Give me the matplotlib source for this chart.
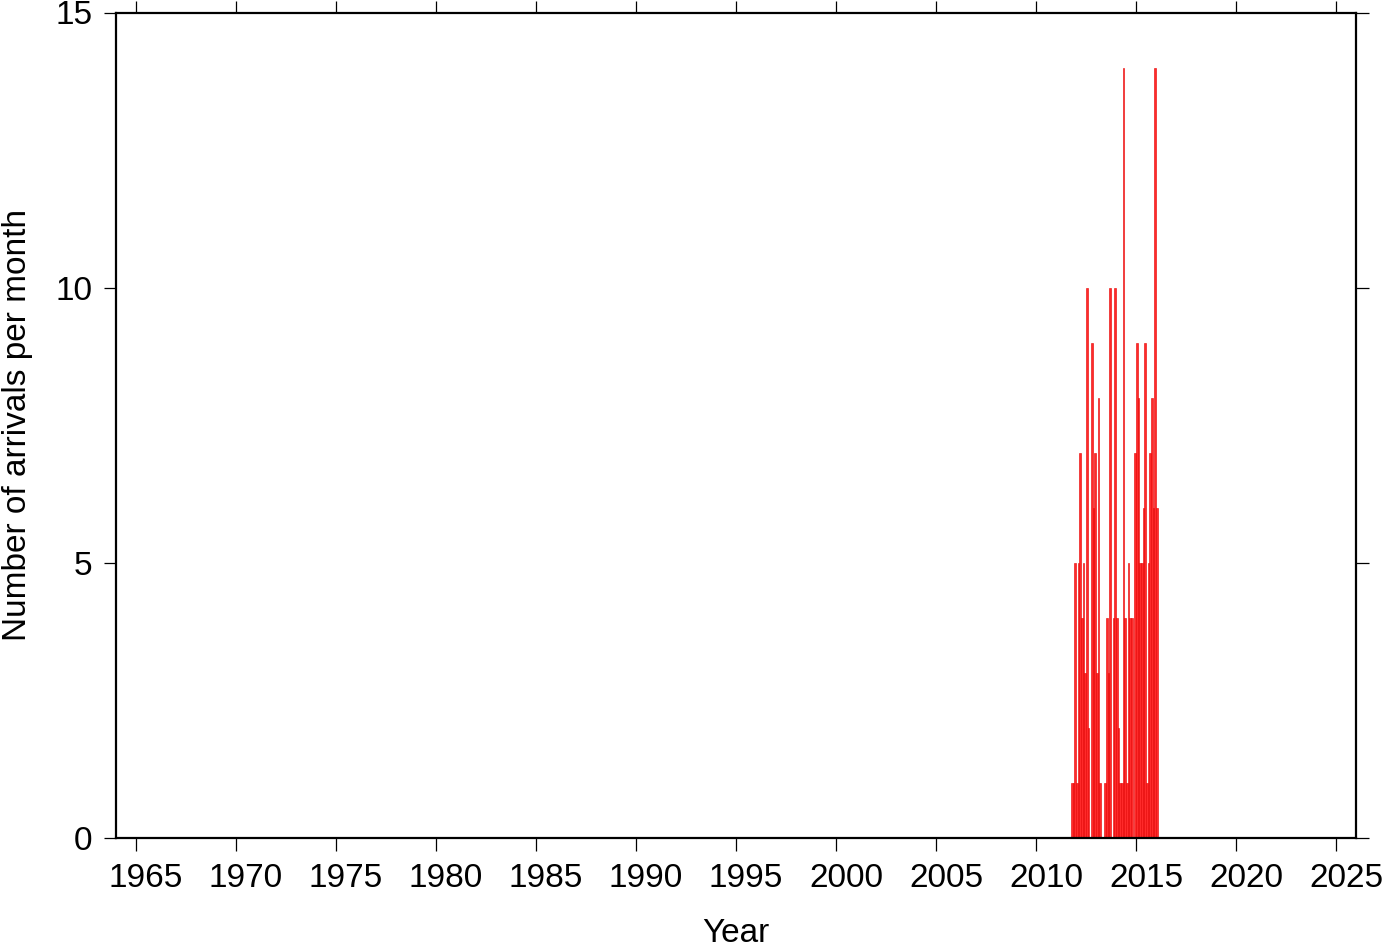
import matplotlib
matplotlib.use("Agg")
import matplotlib.pyplot as plt
from matplotlib.transforms import ScaledTranslation

# monthly counts, starting October 2011
start_year = 2011
start_month = 10
counts = [1, 1, 5, 1, 5, 7, 4, 5, 3, 10, 2, 0,
          9, 6, 7, 3, 8, 1, 0, 0, 1, 4, 3, 10,
          0, 4, 10, 4, 2, 1, 1, 14, 4, 1, 5, 4,
          4, 0, 7, 9, 8, 5, 5, 6, 9, 1, 5, 7,
          8, 6, 14, 6]

x_ticks = list(range(1965, 2030, 5))
y_ticks = [0, 5, 10, 15]

# decimal year of each month's start
months = []
for i in range(len(counts)):
    m = start_month - 1 + i
    months.append(start_year + m // 12 + (m % 12) / 12.0)

plt.rcParams["font.family"] = ["Liberation Sans", "DejaVu Sans"]

W, H = 1382, 942
fig = plt.figure(figsize=(W / 100, H / 100), dpi=100)
ax = fig.add_axes([116 / W, (H - 838) / H, (1356 - 116) / W, (838 - 12.5) / H])

ax.bar(months, counts, width=1 / 12, align="edge",
       facecolor="#ff2a2a", edgecolor="#e60000", linewidth=0.4)

ax.set_xlim(1964, 2026)
ax.set_ylim(0, 15)
ax.set_xticks(x_ticks)
ax.set_yticks(y_ticks)

for s in ax.spines.values():
    s.set_linewidth(1.6)

ax.tick_params(axis="both", which="major", direction="out", length=9,
               width=0.9, labelsize=24, top=True, right=True,
               labeltop=False, labelright=False)
ax.tick_params(axis="x", pad=9)
ax.tick_params(axis="y", pad=8)

# year labels sit a little right of their ticks in the original
shift = ScaledTranslation(10 / 100, 0, fig.dpi_scale_trans)
for lbl in ax.get_xticklabels():
    lbl.set_transform(lbl.get_transform() + shift)

ax.set_xlabel("Year", fontsize=24, labelpad=17)
ax.set_ylabel("Number of arrivals per month", fontsize=24, labelpad=16)

fig.savefig("out.png", dpi=100)
